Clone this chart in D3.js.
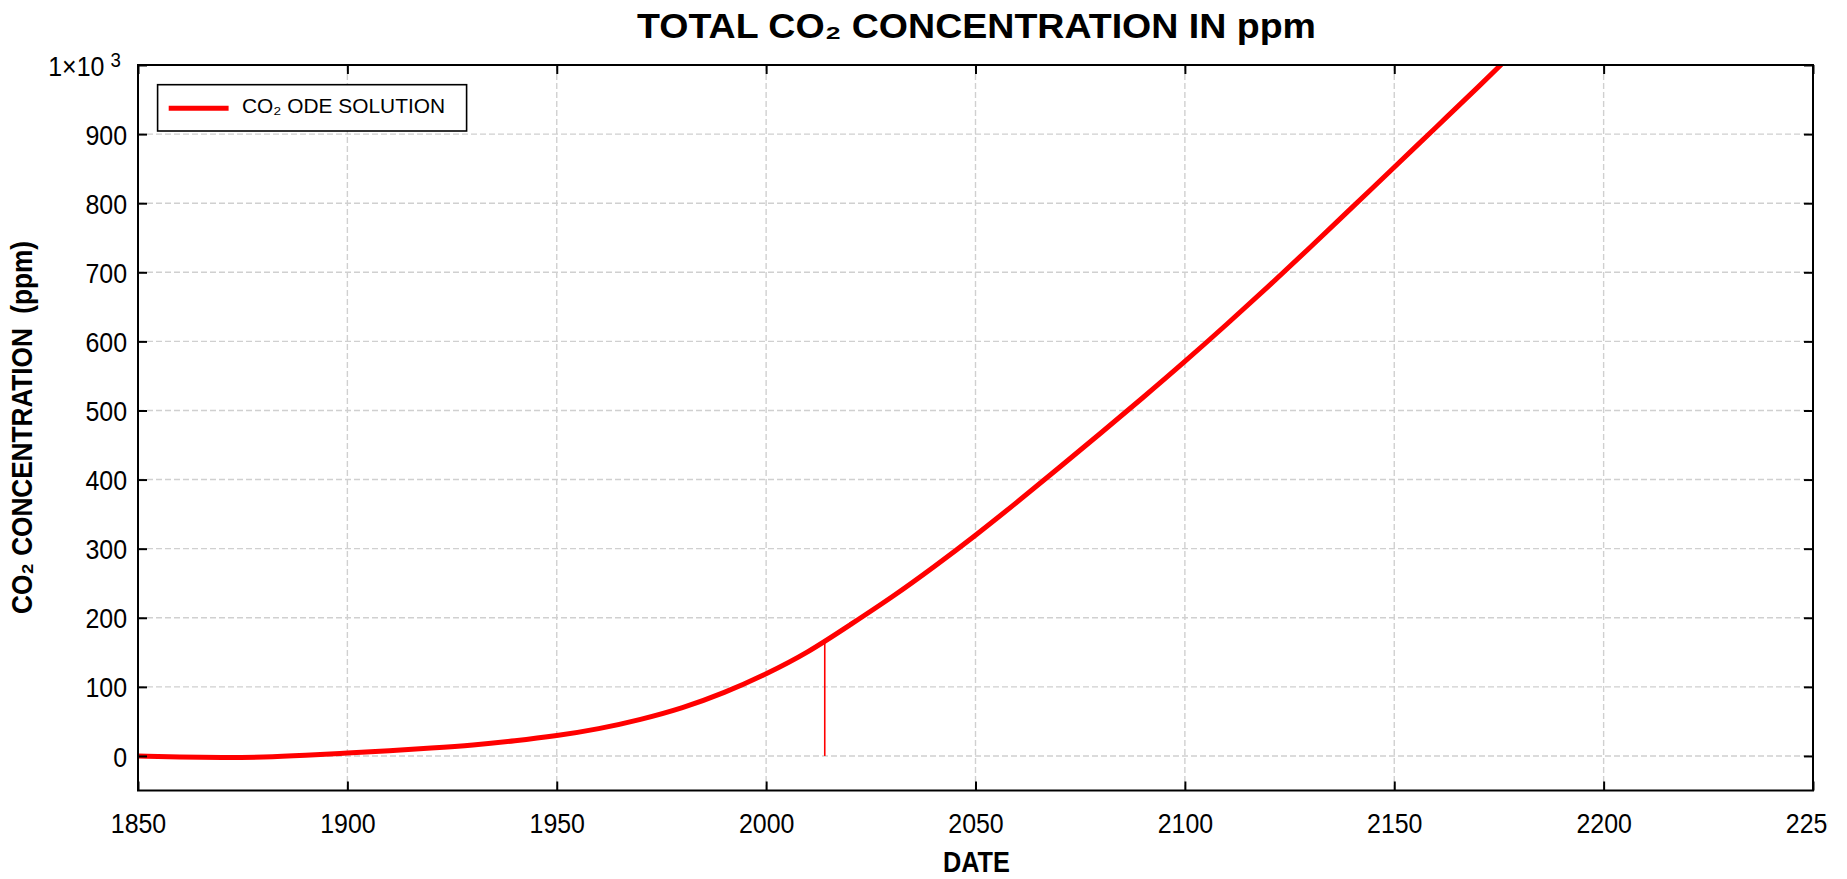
<!DOCTYPE html>
<html>
<head>
<meta charset="utf-8">
<script src="https://cdn.jsdelivr.net/npm/d3@7"></script>
<style>
  html, body { margin: 0; padding: 0; background: #fff; }
  svg { display: block; }
  text { font-family: "Liberation Sans", Arial, sans-serif; fill: #000; }
</style>
</head>
<body>
<svg id="chart" width="1828" height="879"></svg>
<script>
// ---- data ----
const years = [1850, 1860, 1870, 1880, 1890, 1900, 1910, 1920, 1930, 1940, 1950, 1960, 1970, 1980, 1990, 2000, 2010, 2020, 2030, 2040, 2050, 2060, 2070, 2080, 2090, 2100, 2110, 2120, 2130, 2140, 2150, 2160, 2170, 2180];
const co2 = [0, -1.5, -2.2, -1.5, 1.0, 4.2, 7.6, 11.5, 16, 22, 29.5, 39.5, 53, 70, 92, 119, 151, 189.5, 230, 273.5, 319.5, 367.8, 417.5, 467.8, 518.8, 571, 624.8, 680, 736.6, 794.3, 852, 910, 968, 1027];
const markerYear = 2014;
const markerValue = 164;
const xTicks = [1850, 1900, 1950, 2000, 2050, 2100, 2150, 2200, 2250];
const yTicks = [0, 100, 200, 300, 400, 500, 600, 700, 800, 900, 1000];
const titleText = "TOTAL CO\u2082 CONCENTRATION IN ppm";
const xTitle = "DATE";
const yTitle = "CO\u2082 CONCENTRATION  (ppm)";
const legendLabel = "CO\u2082 ODE SOLUTION";

// ---- layout ----
const L = 138, R = 1813, T = 65, B = 790.5;
const svg = d3.select("#chart");
const x = d3.scaleLinear().domain([1850, 2250]).range([L, R]);
const y = d3.scaleLinear().domain([-50, 1000]).range([B, T]);
const labelScale = 0.89;

// clip
svg.append("defs").append("clipPath").attr("id", "plotclip")
  .append("rect").attr("x", L).attr("y", T).attr("width", R - L).attr("height", B - T);

// grid
const grid = svg.append("g").attr("stroke", "#d0d0d0").attr("stroke-width", 1.4).attr("stroke-dasharray", "6,3");
grid.selectAll("line.v").data(xTicks.filter(d => d > 1850 && d < 2250)).join("line")
  .attr("x1", d => x(d)).attr("x2", d => x(d)).attr("y1", T).attr("y2", B);
grid.selectAll("line.h").data(yTicks.filter(d => d < 1000)).join("line")
  .attr("y1", d => y(d)).attr("y2", d => y(d)).attr("x1", L).attr("x2", R);

// curve
const data = years.map((yr, i) => ({ yr, v: co2[i] }));
const line = d3.line().x(d => x(d.yr)).y(d => y(d.v)).curve(d3.curveNatural);
const plotG = svg.append("g").attr("clip-path", "url(#plotclip)");
plotG.append("path").datum(data).attr("d", line)
  .attr("fill", "none").attr("stroke", "#ff0000").attr("stroke-width", 5).attr("stroke-linejoin", "round");
plotG.append("line")
  .attr("x1", x(markerYear)).attr("x2", x(markerYear))
  .attr("y1", y(0)).attr("y2", y(markerValue))
  .attr("stroke", "#ff0000").attr("stroke-width", 1.6);

// axes
function styleAxis(g) {
  g.select(".domain").remove();
  g.selectAll(".tick line").attr("stroke", "#000").attr("stroke-width", 2);
}
const xAxis = svg.append("g").attr("transform", `translate(0,${B})`)
  .call(d3.axisBottom(x).tickValues(xTicks).tickSize(-9).tickFormat(d3.format("d")));
styleAxis(xAxis);
xAxis.selectAll(".tick text")
  .attr("dy", null).attr("y", 43)
  .attr("font-size", 28).attr("font-family", "Liberation Sans, Arial, sans-serif")
  .attr("fill", "#000")
  .attr("transform", `scale(${labelScale},1)`);

const yAxis = svg.append("g").attr("transform", `translate(${L},0)`)
  .call(d3.axisLeft(y).tickValues(yTicks).tickSize(-9).tickFormat(d => d === 1000 ? "" : String(d)));
styleAxis(yAxis);
yAxis.selectAll(".tick text")
  .attr("x", -11 / labelScale).attr("dy", "0.36em")
  .attr("font-size", 28).attr("font-family", "Liberation Sans, Arial, sans-serif")
  .attr("fill", "#000")
  .attr("transform", `scale(${labelScale},1)`);
// 1x10^3 label
const topLabel = yAxis.selectAll(".tick text").filter(d => d === 1000);
topLabel.attr("x", -17 / labelScale).text("1\u00d710");
topLabel.append("tspan").attr("dx", 7).attr("dy", "-0.42em").attr("font-size", 21).text("3");

const rAxis = svg.append("g").attr("transform", `translate(${R},0)`)
  .call(d3.axisRight(y).tickValues(yTicks).tickSize(-9).tickFormat(""));
styleAxis(rAxis);
const tAxis = svg.append("g").attr("transform", `translate(0,${T})`)
  .call(d3.axisTop(x).tickValues(xTicks).tickSize(-9).tickFormat(""));
styleAxis(tAxis);

// frame
svg.append("rect").attr("x", L).attr("y", T).attr("width", R - L).attr("height", B - T)
  .attr("fill", "none").attr("stroke", "#000").attr("stroke-width", 2);

// legend
const lg = svg.append("g");
lg.append("rect").attr("x", 157.6).attr("y", 84.7).attr("width", 309).attr("height", 46.3)
  .attr("fill", "#fff").attr("stroke", "#000").attr("stroke-width", 1.6);
lg.append("line").attr("x1", 168.7).attr("x2", 228.6).attr("y1", 108.3).attr("y2", 108.3)
  .attr("stroke", "#ff0000").attr("stroke-width", 5);
lg.append("text").attr("x", 242).attr("y", 113.3).attr("font-size", 19.5)
  .attr("textLength", 203).attr("lengthAdjust", "spacingAndGlyphs").text(legendLabel);

// titles
svg.append("text").attr("x", 976.5).attr("y", 38.3).attr("text-anchor", "middle")
  .attr("font-size", 35).attr("font-weight", "bold")
  .attr("textLength", 679).attr("lengthAdjust", "spacingAndGlyphs").text(titleText);
svg.append("text").attr("x", 976.4).attr("y", 871.7).attr("text-anchor", "middle")
  .attr("font-size", 29).attr("font-weight", "bold")
  .attr("textLength", 67).attr("lengthAdjust", "spacingAndGlyphs").text(xTitle);
svg.append("text").attr("transform", "translate(31.5,427.5) rotate(-90)").attr("text-anchor", "middle")
  .attr("font-size", 30).attr("font-weight", "bold").style("white-space", "pre")
  .attr("textLength", 373).attr("lengthAdjust", "spacingAndGlyphs").text(yTitle);
</script>
</body>
</html>
